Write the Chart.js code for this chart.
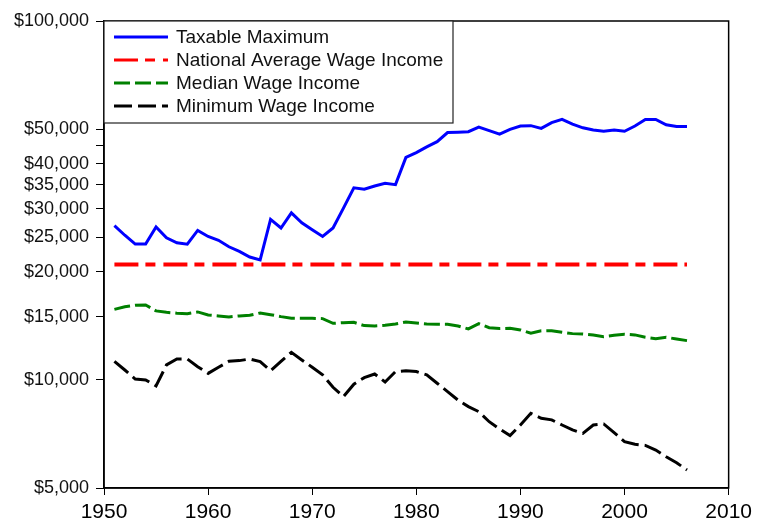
<!DOCTYPE html>
<html>
<head>
<meta charset="utf-8">
<script src="https://cdn.jsdelivr.net/npm/chart.js@4/dist/chart.umd.min.js"></script>
<style>
  html, body { margin: 0; padding: 0; background: #fff; }
  #chart { display: block; }
</style>
</head>
<body>
<canvas id="chart" width="757" height="525"></canvas>
<script>
// data (dollars, log scale)
const years = [1951, 1952, 1953, 1954, 1955, 1956, 1957, 1958, 1959, 1960,
    1961, 1962, 1963, 1964, 1965, 1966, 1967, 1968, 1969, 1970,
    1971, 1972, 1973, 1974, 1975, 1976, 1977, 1978, 1979, 1980,
    1981, 1982, 1983, 1984, 1985, 1986, 1987, 1988, 1989, 1990,
    1991, 1992, 1993, 1994, 1995, 1996, 1997, 1998, 1999, 2000,
    2001, 2002, 2003, 2004, 2005, 2006];

const taxableMax = [26900, 25300, 23900, 23900, 26700, 24900, 24100, 23900, 26100, 25100,
    24500, 23500, 22800, 22000, 21600, 28000, 26500, 29200, 27400, 26200,
    25100, 26500, 30100, 34300, 34000, 34700, 35300, 35000, 41700, 43000,
    44600, 46100, 48900, 49000, 49150, 50600, 49500, 48400, 49900, 51000,
    51100, 50200, 52100, 53200, 51600, 50400, 49700, 49300, 49700, 49300,
    51000, 53200, 53200, 51400, 50800, 50800];

const nationalAvg = [20960, 20960, 20960, 20960, 20960, 20960, 20960, 20960, 20960, 20960,
    20960, 20960, 20960, 20960, 20960, 20960, 20960, 20960, 20960, 20960,
    20960, 20960, 20960, 20960, 20960, 20960, 20960, 20960, 20960, 20960,
    20960, 20960, 20960, 20960, 20960, 20960, 20960, 20960, 20960, 20960,
    20960, 20960, 20960, 20960, 20960, 20960, 20960, 20960, 20960, 20960,
    20960, 20960, 20960, 20960, 20960, 20960];

const medianWage = [15730, 16000, 16140, 16170, 15570, 15430, 15340, 15300, 15470, 15170,
    15080, 14980, 15080, 15140, 15370, 15200, 15010, 14850, 14850, 14850,
    14820, 14380, 14440, 14470, 14170, 14140, 14200, 14320, 14500, 14400,
    14320, 14290, 14290, 14140, 13870, 14350, 13980, 13900, 13930, 13780,
    13490, 13700, 13720, 13580, 13460, 13430, 13350, 13200, 13320, 13400,
    13350, 13150, 13030, 13150, 13000, 12870];

const minimumWage = [11270, 10660, 10060, 10000, 9620, 11010, 11440, 11440, 10890, 10430,
    10850, 11270, 11320, 11440, 11250, 10610, 11270, 11940, 11370, 10850,
    10330, 9540, 8985, 9730, 10150, 10390, 9870, 10550, 10610, 10550,
    10330, 9790, 9280, 8790, 8430, 8160, 7650, 7300, 7000, 7490,
    8070, 7820, 7740, 7490, 7260, 7100, 7490, 7540, 7130, 6730,
    6620, 6570, 6380, 6110, 5880, 5610];

const yTicks = [5000, 10000, 15000, 20000, 25000, 30000, 35000, 40000, 45000, 50000, 100000];
const yUnlabeled = [45000];
const xTicks = [1950, 1960, 1970, 1980, 1990, 2000, 2010];

const seriesNames = ['Taxable Maximum', 'National Average Wage Income', 'Median Wage Income', 'Minimum Wage Income'];

const FONT = 'Liberation Sans, Arial, sans-serif';

function points(values) {
    return years.map((yr, i) => ({ x: yr, y: values[i] }));
}

function money(v) {
    return '$' + Number(v).toLocaleString('en-US');
}

// box round the plot, and the legend inside its top left corner
const framePlugin = {
    id: 'frameAndLegend',
    afterDraw(chart) {
        const ctx = chart.ctx;
        const a = chart.chartArea;
        ctx.save();
        ctx.strokeStyle = '#000';
        ctx.lineWidth = 1.5;
        ctx.strokeRect(a.left, a.top, a.right - a.left, a.bottom - a.top);

        // legend
        const lx = a.left, ly = a.top, lw = 349, lh = 102;
        ctx.fillStyle = '#fff';
        ctx.fillRect(lx, ly, lw, lh);
        ctx.strokeStyle = '#222';
        ctx.lineWidth = 1.2;
        ctx.strokeRect(lx, ly, lw, lh);

        ctx.font = '19px ' + FONT;
        ctx.textBaseline = 'middle';
        chart.data.datasets.forEach((ds, i) => {
            const cy = ly + 16 + i * 23;
            ctx.beginPath();
            ctx.setLineDash(ds.borderDash || []);
            ctx.strokeStyle = ds.borderColor;
            ctx.lineWidth = 3;
            ctx.moveTo(lx + 10, cy);
            ctx.lineTo(lx + 64, cy);
            ctx.stroke();
            ctx.setLineDash([]);
            ctx.fillStyle = '#111';
            ctx.fillText(ds.label, lx + 72, cy + 1);
        });
        ctx.restore();
    }
};

const ctx = document.getElementById('chart').getContext('2d');
const chart = new Chart(ctx, {
    type: 'line',
    data: {
        datasets: [
            {
                label: seriesNames[0],
                data: points(taxableMax),
                borderColor: '#0000ff',
                borderWidth: 3
            },
            {
                label: seriesNames[1],
                data: points(nationalAvg),
                borderColor: '#ff0000',
                borderWidth: 4,
                borderDash: [24, 7, 10, 8]
            },
            {
                label: seriesNames[2],
                data: points(medianWage),
                borderColor: '#008000',
                borderWidth: 3,
                borderDash: [16, 5]
            },
            {
                label: seriesNames[3],
                data: points(minimumWage),
                borderColor: '#000000',
                borderWidth: 3,
                borderDash: [18, 6]
            }
        ]
    },
    options: {
        responsive: false,
        animation: false,
        events: [],
        layout: { padding: { top: 21, right: 28, left: 0, bottom: 0 } },
        elements: {
            point: { radius: 0 },
            line: { tension: 0, borderCapStyle: 'butt', borderJoinStyle: 'miter' }
        },
        plugins: {
            legend: { display: false },
            tooltip: { enabled: false }
        },
        scales: {
            x: {
                type: 'linear',
                min: 1950,
                max: 2010,
                afterBuildTicks: (scale) => {
                    scale.ticks = xTicks.map(v => ({ value: v }));
                },
                afterFit: (scale) => { scale.height = 37; },
                grid: { drawOnChartArea: false, tickLength: 7, color: '#000', lineWidth: 1 },
                border: { display: true, color: '#000', width: 1.5 },
                ticks: {
                    color: '#000',
                    font: { family: FONT, size: 21 },
                    padding: 5,
                    maxRotation: 0,
                    autoSkip: false,
                    callback: (v) => String(v)
                }
            },
            y: {
                type: 'logarithmic',
                min: 5000,
                max: 100000,
                afterBuildTicks: (scale) => {
                    scale.ticks = yTicks.map(v => ({ value: v }));
                },
                afterFit: (scale) => { scale.width = 104; },
                grid: { drawOnChartArea: false, tickLength: 8, color: '#000', lineWidth: 1 },
                border: { display: true, color: '#000', width: 1.5 },
                ticks: {
                    color: '#111',
                    font: { family: FONT, size: 18 },
                    padding: 7,
                    autoSkip: false,
                    callback: (v) => yUnlabeled.includes(v) ? '' : money(v)
                }
            }
        }
    },
    plugins: [framePlugin]
});
</script>
</body>
</html>
